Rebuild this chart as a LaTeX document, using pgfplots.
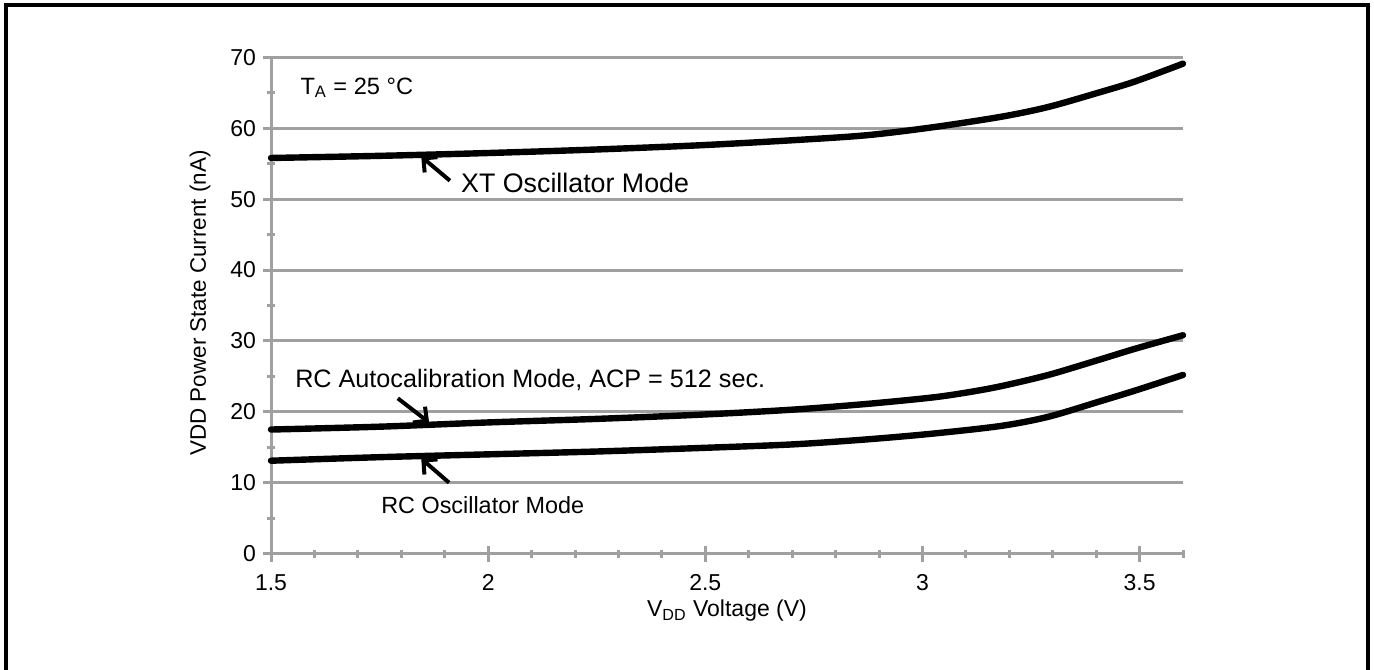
\documentclass[border=0pt]{standalone}
\usepackage{fontspec}
\setmainfont{Liberation Sans}
\usepackage{pgfplots}
\usepackage{pgfplotstable}
\pgfplotsset{compat=1.18}
\usetikzlibrary{arrows.meta}
\definecolor{gridgray}{RGB}{160,160,160}

\pgfplotstableread{
x y
1.5 55.8
1.75 56.1
2.0 56.5
2.25 57.0
2.49 57.6
2.7 58.3
2.87 59.0
3.02 60.1
3.18 61.6
3.29 63.0
3.41 65.1
3.49 66.6
3.6 69.1
}\xtdata
\pgfplotstableread{
x y
1.5 17.5
1.75 17.9
2.0 18.5
2.25 19.0
2.49 19.6
2.7 20.3
2.87 21.1
3.02 22.0
3.1 22.7
3.18 23.6
3.29 25.2
3.41 27.4
3.49 28.9
3.6 30.8
}\rcadata
\pgfplotstableread{
x y
1.5 13.1
1.75 13.6
2.0 14.0
2.25 14.4
2.49 14.9
2.7 15.4
2.87 16.1
3.02 16.9
3.18 18.0
3.29 19.3
3.41 21.5
3.49 23.0
3.6 25.2
}\rcodata

\begin{document}
\begin{tikzpicture}[x=0.5pt,y=0.5pt]
\path[use as bounding box] (0,0) rectangle (1374,669);
\draw[line width=2pt] (5.5,-20) -- (5.5,663.5) -- (1368,663.5) -- (1368,-20);
\begin{axis}[
  at={(135.5pt,57.7pt)}, anchor=south west,
  scale only axis, width=456pt, height=248.15pt,
  xmin=1.5, xmax=3.6, ymin=0, ymax=70,
  axis x line=bottom, axis y line=left,
  axis line style={gridgray, line width=1.5pt, -},
  xtick={1.5,2,2.5,3,3.5},
  minor xtick={1.6,1.7,1.8,1.9,2.1,2.2,2.3,2.4,2.6,2.7,2.8,2.9,3.1,3.2,3.3,3.4,3.6},
  ytick={0,10,...,70},
  minor ytick={5,15,...,65},
  ymajorgrids,
  major grid style={gridgray, line width=1.5pt},
  tick align=center,
  major tick length=8pt, minor tick length=4pt,
  every tick/.style={gridgray, line width=1.5pt},
  tick label style={font=\fontsize{11.5}{13}\selectfont},
  xticklabel style={yshift=-3pt},
  /pgf/number format/assume math mode=true,
  clip=false,
]
\addplot[black, line width=3.2pt, smooth, line cap=round] table[x=x,y=y] {\xtdata};
\addplot[black, line width=3.2pt, smooth, line cap=round] table[x=x,y=y] {\rcadata};
\addplot[black, line width=3.2pt, smooth, line cap=round] table[x=x,y=y] {\rcodata};

\draw[black, line width=2pt, -{Straight Barb[length=5pt,width=10pt,line width=2pt]}] (axis cs:1.912,52.6) -- (axis cs:1.846,56.0);
\draw[black, line width=2pt, -{Straight Barb[length=5pt,width=10pt,line width=2pt]}] (axis cs:1.792,21.9) -- (axis cs:1.864,18.5);
\draw[black, line width=2pt, -{Straight Barb[length=5pt,width=10pt,line width=2pt]}] (axis cs:1.910,10.0) -- (axis cs:1.846,13.4);

\node[anchor=west, inner sep=0pt, font=\fontsize{11.8}{13}\selectfont] at (axis cs:1.567,65.7) {T\textsubscript{A} = 25 °C};
\node[anchor=west, inner sep=0pt, font=\fontsize{13.4}{15}\selectfont] at (axis cs:1.937,52.3) {XT Oscillator Mode};
\node[anchor=west, inner sep=0pt, font=\fontsize{12.6}{14}\selectfont] at (axis cs:1.555,24.5) {RC Autocalibration Mode, ACP = 512 sec.};
\node[anchor=west, inner sep=0pt, font=\fontsize{11.7}{13}\selectfont] at (axis cs:1.753,6.85) {RC Oscillator Mode};
\end{axis}
\node[font=\fontsize{11.2}{13}\selectfont, rotate=90] at (200,366) {VDD Power State Current (nA)};
\node[font=\fontsize{11.5}{13}\selectfont] at (727,58) {V\textsubscript{DD} Voltage (V)};
\end{tikzpicture}
\end{document}
